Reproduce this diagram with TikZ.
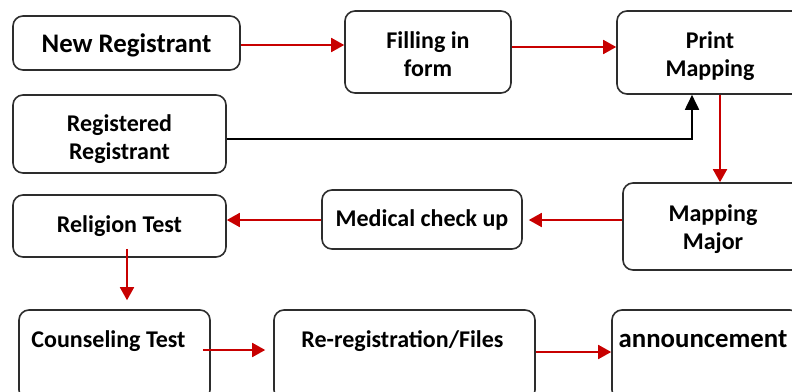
\documentclass[tikz,border=0pt]{standalone}
\usepackage{fontspec}
\setmainfont{Carlito}
\usetikzlibrary{arrows.meta,calc}
\definecolor{arrowred}{RGB}{200,0,0}
\definecolor{boxgray}{RGB}{45,45,45}
\newcommand\lowtext[2]{\raisebox{-#1}[\height][\depth]{\begin{tabular}{@{}c@{}}#2\end{tabular}}}
\begin{document}
\begin{tikzpicture}[x=1pt,y=-1pt,
  box/.style={draw=boxgray,line width=1.6pt,rounded corners=10pt,align=center,
    inner sep=0pt,font=\bfseries\fontsize{24}{28}\selectfont},
  bigtext/.style={font=\bfseries\fontsize{26.8}{30}\selectfont},
  topbox/.style={box,text height=37pt,text depth=53pt},
  redarrow/.style={draw=arrowred,line width=1.8pt,-{Triangle[length=13pt,width=14pt]}},
  blackarrow/.style={draw=black,line width=1.8pt,-{Triangle[length=15pt,width=14pt]}}]
\useasboundingbox (0,0) rectangle (792,391);
\clip (0,0) rectangle (792,391);
\node[box,bigtext,minimum width=227pt,minimum height=54pt] (nr) at (126.5,43) {\lowtext{3pt}{New Registrant}};
\node[box,minimum width=213pt,minimum height=78pt] (rr) at (119.5,134) {\lowtext{5.5pt}{Registered\\Registrant}};
\node[box,minimum width=166pt,minimum height=82pt] (fi) at (428,52) {\lowtext{4.5pt}{Filling in\\form}};
\node[box,minimum width=186pt,minimum height=83pt] (pm) at (710,52.5) {\lowtext{4.5pt}{Print\\Mapping}};
\node[box,minimum width=180pt,minimum height=87pt] (mm) at (713,226.5) {\lowtext{3pt}{Mapping\\Major}};
\node[box,minimum width=200pt,minimum height=59pt] (mc) at (422,219.5) {Medical check up};
\node[box,minimum width=213pt,minimum height=62pt] (rt) at (119.5,226) {Religion Test};
\node[topbox,minimum width=191pt] (ct) at (114.5,355) {Counseling Test\hspace*{12pt}};
\node[topbox,minimum width=261pt] (rf) at (404.5,355) {Re-registration/Files\hspace*{4pt}};
\node[topbox,bigtext,minimum width=188pt] (an) at (706,355) {announcement\hspace*{6pt}};

\draw[redarrow] ([shift={(0,2)}]nr.east) -- ([shift={(0,2)}]nr.east -| fi.west);
\draw[redarrow] ([shift={(0,-5)}]fi.east) -- ([shift={(0,-5)}]fi.east -| pm.west);
\draw[blackarrow] ([shift={(0,5)}]rr.east) -| ([shift={(-18,0)}]pm.south);
\draw[redarrow] ([shift={(10,0)}]pm.south) -- ([shift={(10,0)}]pm.south |- mm.north);
\draw[redarrow] ([shift={(0,0.5)}]mc.east -| mm.west) -- ([shift={(6,0.5)}]mc.east);
\draw[redarrow] ([shift={(0,0.5)}]mc.west) -- ([shift={(0,0.5)}]mc.west -| rt.east);
\draw[redarrow] ([shift={(7.5,-9)}]rt.south) -- ([shift={(7.5,-9)}]rt.south |- ct.north);
\draw[redarrow] ([shift={(-8,-5)}]ct.east) -- ([shift={(-8,-5)}]ct.east -| rf.west);
\draw[redarrow] ([shift={(0,-3)}]rf.east) -- ([shift={(0,-3)}]rf.east -| an.west);
\end{tikzpicture}
\end{document}
